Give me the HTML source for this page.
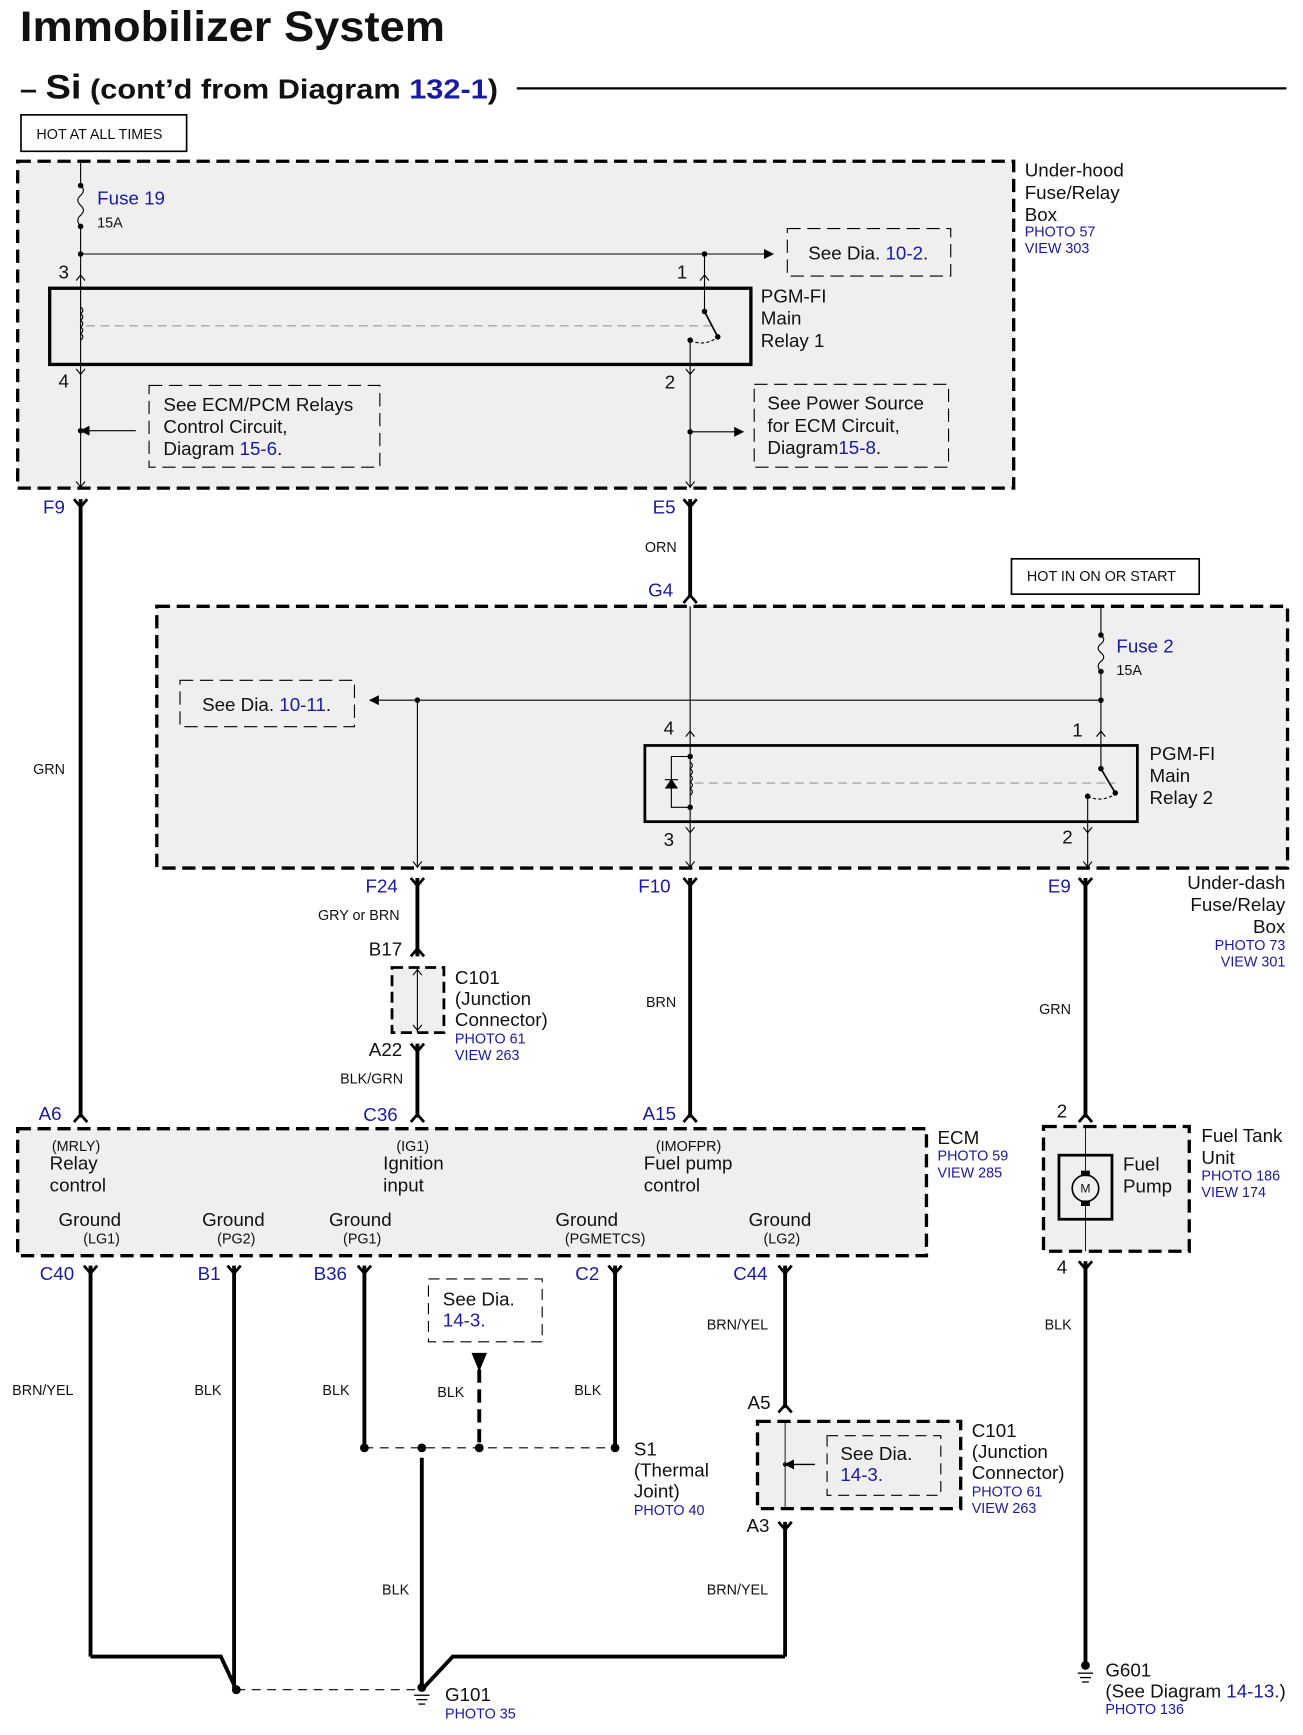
<!DOCTYPE html>
<html><head><meta charset="utf-8"><style>
html,body{margin:0;padding:0;background:#fff;}
svg{display:block;}
text{font-family:"Liberation Sans",sans-serif;fill:#111;}
.b{fill:#1a1aa0;}
.s{font-size:13px;}
.m{font-size:17px;}
</style></head><body>
<svg width="1303" height="1735" viewBox="0 0 1180 1571" preserveAspectRatio="none" xmlns="http://www.w3.org/2000/svg">
<defs>
<marker id="ar" viewBox="0 0 10 10" refX="9" refY="5" markerWidth="9" markerHeight="9" orient="auto-start-reverse" markerUnits="userSpaceOnUse"><path d="M0,0L10,5L0,10z" fill="#000"/></marker>
</defs>
<rect width="1180" height="1571" fill="#fff"/>
<!-- Title -->
<text x="18" y="37" textLength="385" lengthAdjust="spacingAndGlyphs" style="font-size:39px;font-weight:bold;">Immobilizer System</text>
<text x="18" y="89" textLength="433" lengthAdjust="spacingAndGlyphs" style="font-size:25px;font-weight:bold;">– <tspan style="font-size:31px">Si</tspan> (cont’d from  Diagram  <tspan class="b" style="fill:#1a1aa0">132-1</tspan>)</text>
<line x1="468" y1="80" x2="1165" y2="80" stroke="#000" stroke-width="2"/>
<rect x="19" y="104" width="150" height="33" fill="#fff" stroke="#000" stroke-width="1.5"/>
<text x="33" y="126" class="s">HOT AT ALL TIMES</text>

<!-- Box 1 -->
<rect x="16" y="146" width="902" height="296" fill="#efefef" stroke="#000" stroke-width="3" stroke-dasharray="12,6"/>
<text x="928" y="160" class="m">Under-hood</text>
<text x="928" y="180" class="m">Fuse/Relay</text>
<text x="928" y="200" class="m">Box</text>
<text x="928" y="214" class="s b">PHOTO 57</text>
<text x="928" y="229" class="s b">VIEW 303</text>

<g stroke="#000" stroke-width="1" fill="none">
<line x1="73" y1="146" x2="73" y2="168"/>
<path d="M73,168 q5,4 0,9 q-5,4 0,9 q5,4 0,9 q-5,4 0,10"/>
<line x1="73" y1="205" x2="73" y2="261"/>
<line x1="73" y1="230" x2="700" y2="230" marker-end="url(#ar)"/>
<line x1="638" y1="230" x2="638" y2="261"/>
<line x1="73" y1="330" x2="73" y2="442"/>
<line x1="625" y1="330" x2="625" y2="442"/>
<line x1="73" y1="390" x2="123" y2="390" marker-start="url(#ar)"/>
<line x1="625" y1="391" x2="673" y2="391" marker-end="url(#ar)"/>
<path d="M69,254l4,-5l4,5M69,266l4,-5l4,5M634,254l4,-5l4,5M634,266l4,-5l4,5M69,322l4,5l4,-5M69,334l4,5l4,-5M621,322l4,5l4,-5M621,334l4,5l4,-5M69,436l4,5l4,-5M621,436l4,5l4,-5"/>
<rect x="713" y="207" width="148" height="43" stroke-dasharray="12,6"/>
<rect x="135" y="349" width="209" height="74" stroke-dasharray="12,6"/>
<rect x="683" y="348" width="176" height="75" stroke-dasharray="12,6"/>
</g>
<circle cx="73" cy="168" r="2.5"/><circle cx="73" cy="205" r="2.5"/><circle cx="73" cy="230" r="2.5"/><circle cx="638" cy="230" r="2.5"/>
<circle cx="73" cy="390" r="2.5"/><circle cx="625" cy="391" r="2.5"/>
<text x="88" y="185" class="m b">Fuse 19</text>
<text x="88" y="206" class="s">15A</text>
<text x="732" y="235" class="m">See Dia. <tspan class="b" style="fill:#1a1aa0">10-2</tspan>.</text>
<text x="53" y="252" class="m">3</text><text x="613" y="252" class="m">1</text>
<text x="53" y="351" class="m">4</text><text x="602" y="352" class="m">2</text>
<!-- Relay1 -->
<rect x="45" y="261" width="635" height="69" fill="#efefef" stroke="#000" stroke-width="3"/>
<g stroke="#000" stroke-width="1" fill="none">
<line x1="73" y1="261" x2="73" y2="330"/>
<path d="M73,278 q4,3 0,6 q4,3 0,6 q4,3 0,6 q4,3 0,6 q4,3 0,6"/>
<line x1="78" y1="295" x2="645" y2="295" stroke="#999" stroke-dasharray="8,5"/>
<line x1="638" y1="261" x2="638" y2="282"/>
<line x1="638" y1="282" x2="650" y2="305" stroke-width="1.5"/>
<line x1="625" y1="309" x2="625" y2="330"/>
<path d="M625,308 q12,6 24,-2" stroke-dasharray="3,2"/>
</g>
<circle cx="638" cy="282" r="2.5"/><circle cx="650" cy="305" r="2.5"/><circle cx="625" cy="308" r="2.5"/>
<text x="689" y="274" class="m">PGM-FI</text><text x="689" y="294" class="m">Main</text><text x="689" y="314" class="m">Relay 1</text>
<text x="148" y="372" class="m">See ECM/PCM Relays</text>
<text x="148" y="392" class="m">Control Circuit,</text>
<text x="148" y="412" class="m">Diagram  <tspan class="b" style="fill:#1a1aa0">15-6</tspan>.</text>
<text x="695" y="371" class="m">See Power Source</text>
<text x="695" y="391" class="m">for ECM Circuit,</text>
<text x="695" y="411" class="m">Diagram<tspan class="b" style="fill:#1a1aa0">15-8</tspan>.</text>

<!-- Thick wires -->
<g stroke="#000" stroke-width="3.5" fill="none">
<line x1="73" y1="452" x2="73" y2="1012"/>
<line x1="625" y1="452" x2="625" y2="540"/>
<line x1="378" y1="795" x2="378" y2="866"/>
<line x1="378" y1="945" x2="378" y2="1012"/>
<line x1="625" y1="795" x2="625" y2="1012"/>
<line x1="983" y1="795" x2="983" y2="1012"/>
<line x1="82" y1="1146" x2="82" y2="1500"/>
<polyline points="82,1500 200,1500 214,1530"/>
<line x1="212" y1="1146" x2="212" y2="1530"/>
<line x1="330" y1="1146" x2="330" y2="1311"/>
<line x1="557" y1="1146" x2="557" y2="1311"/>
<line x1="711" y1="1146" x2="711" y2="1275"/>
<line x1="711" y1="1378" x2="711" y2="1500"/>
<polyline points="711,1500 410,1500 382,1530"/>
<line x1="382" y1="1320" x2="382" y2="1528"/>
<line x1="434" y1="1240" x2="434" y2="1311" stroke-dasharray="12,6"/>
<line x1="983" y1="1142" x2="983" y2="1508"/>
</g>
<g stroke="#000" stroke-width="2.5" fill="none">
<path d="M67,452l6,7l6,-7M619,452l6,7l6,-7M372,795l6,7l6,-7M619,795l6,7l6,-7M977,795l6,7l6,-7M372,945l6,7l6,-7M705,1378l6,7l6,-7M977,1142l6,7l6,-7"/>
<path d="M76,1146l6,7l6,-7M206,1146l6,7l6,-7M324,1146l6,7l6,-7M551,1146l6,7l6,-7M705,1146l6,7l6,-7"/>
<path d="M67,1016l6,-7l6,7M372,1016l6,-7l6,7M619,1016l6,-7l6,7M977,1016l6,-7l6,7M619,546l6,-7l6,7M372,866l6,-7l6,7M705,1279l6,-7l6,7"/>
</g>
<path d="M427,1225L441,1225L434,1242z" fill="#000"/>
<text x="39" y="465" class="m b">F9</text>
<text x="591" y="465" class="m b">E5</text>
<text x="584" y="500" class="s">ORN</text>
<text x="587" y="540" class="m b">G4</text>
<text x="30" y="701" class="s">GRN</text>

<rect x="916" y="506" width="170" height="32" fill="#fff" stroke="#000" stroke-width="1.5"/>
<text x="930" y="526" class="s">HOT IN ON OR START</text>

<!-- Box 2 -->
<rect x="142" y="549" width="1024" height="237" fill="#efefef" stroke="#000" stroke-width="3" stroke-dasharray="12,6"/>
<g stroke="#000" stroke-width="1" fill="none">
<line x1="997" y1="549" x2="997" y2="575"/>
<path d="M997,575 q5,4 0,8 q-5,4 0,8 q5,4 0,8 q-5,4 0,9"/>
<line x1="997" y1="608" x2="997" y2="675"/>
<line x1="997" y1="634" x2="335" y2="634" marker-end="url(#ar)"/>
<line x1="378" y1="634" x2="378" y2="786"/>
<line x1="625" y1="549" x2="625" y2="675"/>
<line x1="625" y1="744" x2="625" y2="786"/>
<line x1="985" y1="744" x2="985" y2="786"/>
<path d="M621,667l4,-5l4,5M621,679l4,-5l4,5M993,667l4,-5l4,5M993,679l4,-5l4,5M621,737l4,5l4,-5M621,749l4,5l4,-5M981,737l4,5l4,-5M981,749l4,5l4,-5M374,780l4,5l4,-5M621,780l4,5l4,-5M981,780l4,5l4,-5"/>
<rect x="163" y="616" width="158" height="42" stroke-dasharray="12,6"/>
</g>
<circle cx="997" cy="575" r="2.5"/><circle cx="997" cy="608" r="2.5"/><circle cx="997" cy="634" r="2.5"/><circle cx="378" cy="634" r="2.5"/>
<text x="1011" y="591" class="m b">Fuse 2</text>
<text x="1011" y="611" class="s">15A</text>
<text x="183" y="644" class="m">See Dia. <tspan class="b" style="fill:#1a1aa0">10-11</tspan>.</text>
<text x="601" y="665" class="m">4</text><text x="971" y="667" class="m">1</text>
<text x="601" y="766" class="m">3</text><text x="962" y="764" class="m">2</text>
<rect x="584" y="675" width="446" height="69" fill="#efefef" stroke="#000" stroke-width="2.5"/>
<g stroke="#000" stroke-width="1" fill="none">
<line x1="625" y1="675" x2="625" y2="744"/>
<path d="M625,690 q4,3 0,6 q4,3 0,6 q4,3 0,6 q4,3 0,6 q4,3 0,6"/>
<polyline points="625,685 608,685 608,731 625,731"/>
<line x1="602" y1="706" x2="614" y2="706"/>
<line x1="629" y1="709" x2="1010" y2="709" stroke="#999" stroke-dasharray="8,5"/>
<line x1="997" y1="675" x2="997" y2="696"/>
<line x1="997" y1="696" x2="1010" y2="718" stroke-width="1.5"/>
<line x1="985" y1="721" x2="985" y2="744"/>
<path d="M985,721 q12,6 25,-2" stroke-dasharray="3,2"/>
</g>
<path d="M602,714L614,714L608,705z" fill="#000"/>
<circle cx="625" cy="685" r="2.5"/><circle cx="625" cy="731" r="2.5"/>
<circle cx="997" cy="696" r="2.5"/><circle cx="1010" cy="718" r="2.5"/><circle cx="985" cy="721" r="2.5"/>
<text x="1041" y="688" class="m">PGM-FI</text><text x="1041" y="708" class="m">Main</text><text x="1041" y="728" class="m">Relay 2</text>
<text x="1164" y="805" class="m" text-anchor="end">Under-dash</text>
<text x="1164" y="825" class="m" text-anchor="end">Fuse/Relay</text>
<text x="1164" y="845" class="m" text-anchor="end">Box</text>
<text x="1164" y="860" class="s b" text-anchor="end">PHOTO 73</text>
<text x="1164" y="875" class="s b" text-anchor="end">VIEW 301</text>

<text x="331" y="808" class="m b">F24</text>
<text x="578" y="808" class="m b">F10</text>
<text x="949" y="808" class="m b">E9</text>
<text x="288" y="833" class="s">GRY or BRN</text>
<text x="334" y="865" class="m">B17</text>
<rect x="355" y="876" width="47" height="59" fill="#efefef" stroke="#000" stroke-width="2.5" stroke-dasharray="10,5"/>
<line x1="378" y1="876" x2="378" y2="935" stroke="#000" stroke-width="1"/>
<path d="M374,883l4,-5l4,5M374,928l4,5l4,-5" stroke="#000" fill="none"/>
<text x="412" y="891" class="m">C101</text>
<text x="412" y="910" class="m">(Junction</text>
<text x="412" y="929" class="m">Connector)</text>
<text x="412" y="945" class="s b">PHOTO 61</text>
<text x="412" y="960" class="s b">VIEW 263</text>
<text x="334" y="956" class="m">A22</text>
<text x="308" y="981" class="s">BLK/GRN</text>
<text x="585" y="912" class="s">BRN</text>
<text x="941" y="918" class="s">GRN</text>

<!-- ECM -->
<text x="35" y="1014" class="m b">A6</text>
<text x="329" y="1015" class="m b">C36</text>
<text x="582" y="1014" class="m b">A15</text>
<text x="957" y="1012" class="m">2</text>
<rect x="16" y="1022" width="823" height="115" fill="#efefef" stroke="#000" stroke-width="3" stroke-dasharray="12,6"/>
<text x="849" y="1036" class="m">ECM</text>
<text x="849" y="1051" class="s b">PHOTO 59</text>
<text x="849" y="1066" class="s b">VIEW 285</text>
<text x="47" y="1042" class="s">(MRLY)</text>
<text x="45" y="1059" class="m">Relay</text><text x="45" y="1079" class="m">control</text>
<text x="359" y="1042" class="s">(IG1)</text>
<text x="347" y="1059" class="m">Ignition</text><text x="347" y="1079" class="m">input</text>
<text x="594" y="1042" class="s">(IMOFPR)</text>
<text x="583" y="1059" class="m">Fuel pump</text><text x="583" y="1079" class="m">control</text>
<text x="53" y="1110" class="m">Ground</text><text x="183" y="1110" class="m">Ground</text><text x="298" y="1110" class="m">Ground</text><text x="503" y="1110" class="m">Ground</text><text x="678" y="1110" class="m">Ground</text>
<text x="92" y="1126" class="s" text-anchor="middle">(LG1)</text>
<text x="214" y="1126" class="s" text-anchor="middle">(PG2)</text>
<text x="328" y="1126" class="s" text-anchor="middle">(PG1)</text>
<text x="548" y="1126" class="s" text-anchor="middle">(PGMETCS)</text>
<text x="708" y="1126" class="s" text-anchor="middle">(LG2)</text>

<!-- Fuel tank -->
<rect x="945" y="1020" width="132" height="113" fill="#efefef" stroke="#000" stroke-width="3" stroke-dasharray="12,6"/>
<rect x="959" y="1046" width="48" height="58" fill="#efefef" stroke="#000" stroke-width="2.5"/>
<line x1="983" y1="1020" x2="983" y2="1133" stroke="#000" stroke-width="0.8"/>
<circle cx="983" cy="1076" r="12" fill="#efefef" stroke="#000" stroke-width="1.5"/>
<rect x="979" y="1060" width="8" height="5" fill="#000"/><rect x="979" y="1087" width="8" height="5" fill="#000"/>
<text x="983" y="1080" text-anchor="middle" style="font-size:11px">M</text>
<text x="1017" y="1060" class="m">Fuel</text><text x="1017" y="1080" class="m">Pump</text>
<text x="1088" y="1034" class="m">Fuel Tank</text><text x="1088" y="1054" class="m">Unit</text>
<text x="1088" y="1069" class="s b">PHOTO 186</text>
<text x="1088" y="1084" class="s b">VIEW 174</text>
<text x="957" y="1153" class="m">4</text>

<!-- Lower labels -->
<text x="36" y="1159" class="m b">C40</text>
<text x="179" y="1159" class="m b">B1</text>
<text x="284" y="1159" class="m b">B36</text>
<text x="521" y="1159" class="m b">C2</text>
<text x="664" y="1159" class="m b">C44</text>
<rect x="388" y="1158" width="103" height="57" fill="none" stroke="#000" stroke-dasharray="10,6"/>
<text x="401" y="1182" class="m">See  Dia.</text>
<text x="401" y="1201" class="m b">14-3.</text>
<text x="11" y="1263" class="s">BRN/YEL</text>
<text x="176" y="1263" class="s">BLK</text>
<text x="292" y="1263" class="s">BLK</text>
<text x="396" y="1265" class="s">BLK</text>
<text x="520" y="1263" class="s">BLK</text>
<text x="640" y="1204" class="s">BRN/YEL</text>
<text x="946" y="1204" class="s">BLK</text>
<line x1="330" y1="1311" x2="557" y2="1311" stroke="#000" stroke-dasharray="8,6"/>
<circle cx="330" cy="1311" r="4"/><circle cx="382" cy="1311" r="4"/><circle cx="434" cy="1311" r="4"/><circle cx="557" cy="1311" r="4"/>
<text x="574" y="1318" class="m">S1</text>
<text x="574" y="1337" class="m">(Thermal</text>
<text x="574" y="1356" class="m">Joint)</text>
<text x="574" y="1372" class="s b">PHOTO 40</text>
<text x="677" y="1276" class="m">A5</text>
<text x="676" y="1387" class="m">A3</text>
<rect x="686" y="1287" width="184" height="79" fill="#efefef" stroke="#000" stroke-width="3" stroke-dasharray="12,6"/>
<line x1="711" y1="1287" x2="711" y2="1366" stroke="#000" stroke-width="0.8"/>
<line x1="711" y1="1326" x2="738" y2="1326" stroke="#000" stroke-width="1.2" marker-start="url(#ar)"/>
<circle cx="711" cy="1326" r="2"/>
<rect x="749" y="1300" width="103" height="54" fill="none" stroke="#000" stroke-dasharray="10,6"/>
<text x="761" y="1322" class="m">See Dia.</text>
<text x="761" y="1341" class="m b">14-3.</text>
<text x="880" y="1301" class="m">C101</text>
<text x="880" y="1320" class="m">(Junction</text>
<text x="880" y="1339" class="m">Connector)</text>
<text x="880" y="1355" class="s b">PHOTO 61</text>
<text x="880" y="1370" class="s b">VIEW 263</text>
<text x="346" y="1444" class="s">BLK</text>
<text x="640" y="1444" class="s">BRN/YEL</text>

<!-- grounds -->
<line x1="214" y1="1530" x2="380" y2="1530" stroke="#000" stroke-dasharray="8,6"/>
<circle cx="214" cy="1530" r="4"/><circle cx="382" cy="1528" r="4"/>
<g stroke="#000" stroke-width="1.2"><line x1="375" y1="1535" x2="389" y2="1535"/><line x1="377" y1="1539" x2="387" y2="1539"/><line x1="379" y1="1543" x2="385" y2="1543"/>
<line x1="976" y1="1515" x2="990" y2="1515"/><line x1="978" y1="1519" x2="988" y2="1519"/><line x1="980" y1="1523" x2="986" y2="1523"/></g>
<circle cx="983" cy="1508" r="4"/>
<text x="403" y="1540" class="m">G101</text>
<text x="403" y="1556" class="s b">PHOTO 35</text>
<text x="1001" y="1518" class="m">G601</text>
<text x="1001" y="1537" class="m">(See Diagram <tspan class="b" style="fill:#1a1aa0">14-13</tspan>.)</text>
<text x="1001" y="1552" class="s b">PHOTO 136</text>
</svg>
</body></html>
